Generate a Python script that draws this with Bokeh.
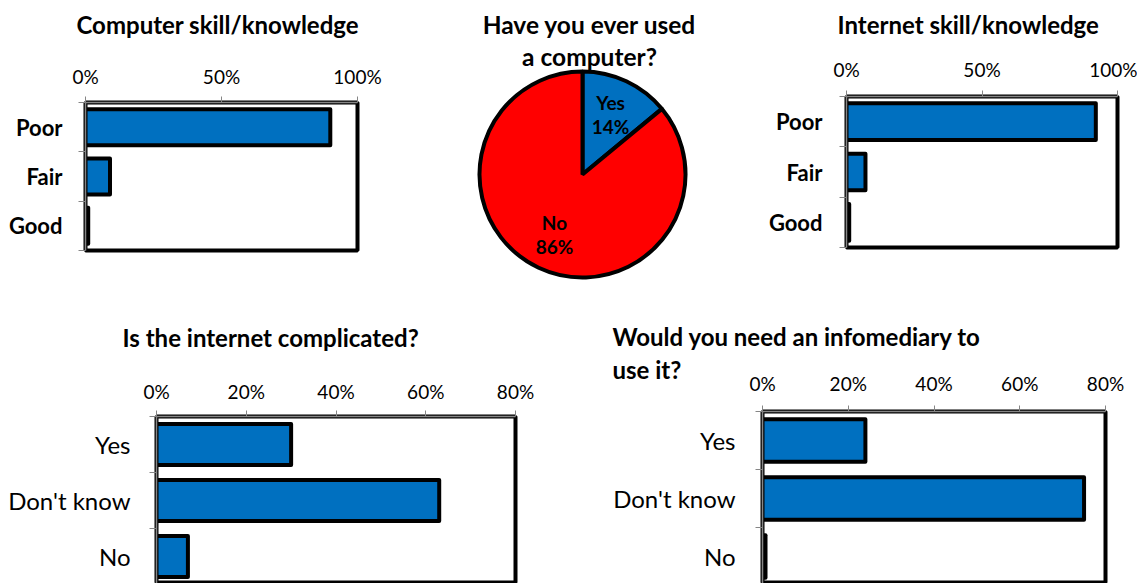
import math
from bokeh.plotting import figure
from bokeh.layouts import column, row
from bokeh.models import Range1d, FixedTicker, Title, PrintfTickFormatter
from bokeh.core.properties import value
from bokeh.embed import file_html
from bokeh.resources import INLINE

# ---------------- data ----------------
skill_cats = ["Poor", "Fair", "Good"]
computer_skill = [90, 9, 1]
internet_skill = [92, 7, 1]

used_cats = ["Yes", "No"]
used_vals = [14, 86]

answer_cats = ["Yes", "Don't know", "No"]
complicated_vals = [30, 63, 7]
infomediary_vals = [24, 75, 0.7]

skill_ticks = [0, 50, 100]
answer_ticks = [0, 20, 40, 60, 80]

titles = {
    "computer": "Computer skill/knowledge",
    "used": ["Have you ever used", "a computer?"],
    "internet": "Internet skill/knowledge",
    "complicated": "Is the internet complicated?",
    "infomediary": ["Would you need an infomediary to", "use it?"],
}

# ---------------- style ----------------
FONT = "Lato"
BLUE = "#0070C0"
RED = "#FF0000"
GRAY = "#868686"


def bar_chart(cats, vals, ticks, xmax, width, height, bl, br, bt, bb, ymin,
              cat_size, cat_style, tick_size, cat_standoff, tick_standoff):
    n = len(cats)
    p = figure(width=width, height=height, x_range=Range1d(0, xmax),
               y_range=Range1d(ymin, n + 0.5), output_backend="svg",
               toolbar_location=None, x_axis_location="above", title=None,
               min_border_left=bl, min_border_right=br,
               min_border_top=bt, min_border_bottom=bb)
    p.frame_align = False
    ys = [n - i for i in range(n)]
    p.hbar(y=ys, left=0, right=vals, height=0.73, fill_color=BLUE,
           line_color="black", line_width=4, line_join="round")
    p.xgrid.visible = False
    p.ygrid.visible = False
    p.background_fill_color = "white"
    p.border_fill_color = "white"
    p.outline_line_color = "black"
    p.outline_line_width = 4
    p.outline_line_alpha = 1.0

    xa = p.xaxis[0]
    xa.ticker = FixedTicker(ticks=ticks)
    xa.formatter = PrintfTickFormatter(format="%d%%")
    xa.axis_line_color = GRAY
    xa.axis_line_width = 1.5
    xa.major_tick_line_color = GRAY
    xa.major_tick_out = 6
    xa.major_tick_in = 0
    xa.minor_tick_line_color = None
    xa.minor_tick_out = 0
    xa.minor_tick_in = 0
    xa.major_label_text_font = FONT
    xa.major_label_text_font_size = tick_size
    xa.major_label_text_color = "black"
    xa.major_label_standoff = tick_standoff

    ya = p.yaxis[0]
    ya.ticker = FixedTicker(ticks=ys, minor_ticks=[k + 0.5 for k in range(n + 1)])
    ya.major_label_overrides = {y: c for y, c in zip(ys, cats)}
    ya.axis_line_color = GRAY
    ya.axis_line_width = 1.5
    ya.major_tick_line_color = None
    ya.major_tick_out = 0
    ya.major_tick_in = 0
    ya.minor_tick_line_color = GRAY
    ya.minor_tick_out = 7
    ya.minor_tick_in = 0
    ya.major_label_text_font = FONT
    ya.major_label_text_font_size = cat_size
    ya.major_label_text_font_style = cat_style
    ya.major_label_text_color = "black"
    ya.major_label_standoff = cat_standoff
    return p


def add_gap(p, gap):
    # blank title used only as vertical spacing between axis and title
    p.add_layout(Title(text=" ", text_font=FONT, text_font_size="1px",
                       standoff=max(gap - 1, 0)), "above")


def add_title(p, text, offset, standoff, size="24px"):
    t = Title(text=text, align="left", offset=offset, standoff=standoff,
              text_font=FONT, text_font_size=size, text_font_style="bold",
              text_color="black")
    p.add_layout(t, "above")


TOP_H = 299
BOT_H = 284

# Computer skill
p1 = bar_chart(skill_cats, computer_skill, skill_ticks, 100, 407, TOP_H,
               85, 50, 102, 49, 0.5, "22px", "bold", "19px", 16, 9)
add_gap(p1, 21)
add_title(p1, titles["computer"], -9, 0)

# Pie
pie = figure(width=340, height=TOP_H, x_range=Range1d(-175, 165),
             y_range=Range1d(-125, 174), output_backend="svg", title=None,
             toolbar_location=None, x_axis_location=None, y_axis_location=None,
             min_border=0)
pie.frame_align = False
pie.xgrid.visible = False
pie.ygrid.visible = False
pie.outline_line_color = None
R = 103
total = sum(used_vals)
starts, ends, mids = [], [], []
a = 90.0
for v in used_vals:
    span = v / total * 360.0
    starts.append(math.radians(a))
    ends.append(math.radians(a - span))
    mids.append(math.radians(a - span / 2))
    a -= span
pie.wedge(x=0, y=0, radius=R, start_angle=starts, end_angle=ends,
          direction="clock", fill_color=[BLUE, RED], line_color="black",
          line_width=4)
lx, ly, lt = [], [], []
for c, v, m in zip(used_cats, used_vals, mids):
    cx = 0.64 * R * math.cos(m)
    cy = 0.64 * R * math.sin(m)
    lx += [cx, cx]
    ly += [cy + 12, cy - 12]
    lt += [c, f"{v}%"]
pie.text(x=lx, y=ly, text=lt, text_font=value(FONT), text_font_size="19px",
         text_font_style="bold", text_align="center", text_baseline="middle",
         text_color="black")
pie.text(x=[7, 7], y=[150, 118], text=titles["used"], text_font=value(FONT),
         text_font_size="24.5px", text_font_style="bold", text_align="center",
         text_baseline="middle", text_color="black")

# Internet skill
p3 = bar_chart(skill_cats, internet_skill, skill_ticks, 100, 390, TOP_H,
               99, 20, 96, 52, 0.5, "22px", "bold", "19px", 17, 10)
add_gap(p3, 14)
add_title(p3, titles["internet"], -9, 0)

# Is the internet complicated?
p4 = bar_chart(answer_cats, complicated_vals, answer_ticks, 80, 559, BOT_H,
               156, 44, 117, 0, 3.5 - 167 / 56, "24px", "normal", "19px", 19, 8)
add_gap(p4, 23)
add_title(p4, titles["complicated"], -34, 0)

# Would you need an infomediary?
p5 = bar_chart(answer_cats, infomediary_vals, answer_ticks, 80, 578, BOT_H,
               203, 32, 112, 0, 3.5 - 172 / 58, "24px", "normal", "19px", 20, 11)
add_title(p5, titles["infomediary"][1], -150, -30)
add_title(p5, titles["infomediary"][0], -150, 34)

layout = column(row(p1, pie, p3), row(p4, p5))
open("out.html", "w").write(file_html(layout, INLINE))
